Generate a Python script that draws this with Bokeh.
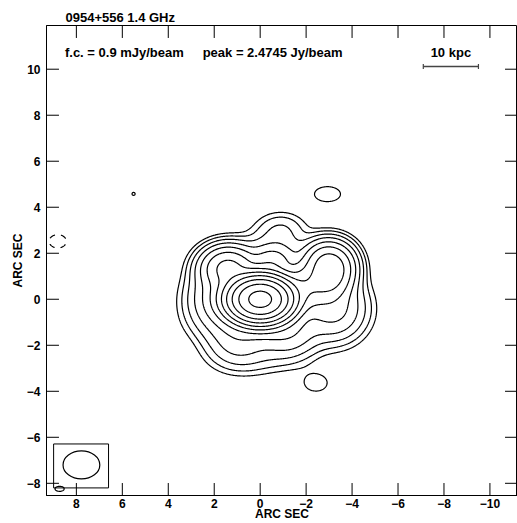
import numpy as np
from bokeh.plotting import figure
from bokeh.models import Range1d, FixedTicker
from bokeh.embed import file_html
from bokeh.resources import INLINE
from bokeh.core.properties import value

# ---------------- data ----------------
title_text = "0954+556  1.4 GHz"
fc_mjy = 0.9                       # first contour, mJy/beam
peak_jy = 2.4745                   # peak, Jy/beam
level_factors = [1, 2, 4, 8, 16, 32, 64, 128, 256, 512, 1024, 2048]
neg_level_factors = [-1]

# model of the map: elliptical gaussian components (mJy/beam, arcsec FWHM, deg)
comp_name = ["core", "east", "ne_ear", "w_ear1", "w_ear2", "w_ear3", "bridge",
             "north1", "north2", "north_faint",
             "south", "south1", "south2", "southwest", "south_shelf",
             "blob_n", "blob_s", "speck", "blob_sw", "neg_e"]
comp_x = [0.0, 1.73, 1.4, -2.8, -3.3, -3.0, -2.0,
          -0.5, -0.7, -0.9,
          0.0, 1.0, -1.2, -3.2, 0.3,
          -2.93, -2.43, 5.51, 8.73, 8.81]
comp_y = [0.0, 0.0, 1.35, 1.6, 1.4, 0.8, 0.55,
          1.6, 2.1, 3.1,
          -1.0, -1.8, -1.5, -0.4, -2.5,
          4.57, -3.64, 4.58, -8.24, 2.52]
comp_peak = [2440.0, 20.0, 70.0, 45.0, 45.0, 40.0, 45.0,
             18.0, 6.0, 3.0,
             12.0, 8.0, 10.0, 18.0, 2.0,
             1.27, 1.27, 1.0, 1.27, -1.27]
comp_maj = [1.55, 1.78, 1.5, 1.2, 1.2, 1.2, 1.4,
            1.2, 2.0, 1.5,
            3.0, 1.8, 1.8, 1.8, 2.5,
            1.6, 1.36, 0.35, 0.57, 1.06]
comp_min = [1.1, 1.78, 1.2, 1.2, 1.3, 1.2, 1.3,
            0.9, 1.3, 1.0,
            1.4, 1.5, 1.5, 1.8, 1.2,
            0.92, 0.99, 0.35, 0.31, 0.82]
comp_pa = [0, 0, 0, 0, 0, 0, 0,
           0, 0, 0,
           0, 0, 0, 0, 0,
           0, 0, 0, 0, 0]

# restoring beam symbol (arcsec)
beam_x, beam_y, beam_w, beam_h = [7.78], [-7.2], [1.6], [1.22]
beam_box_left, beam_box_right = [8.99], [6.6]
beam_box_top, beam_box_bottom = [-6.29], [-8.2]

# 10 kpc scale bar (arcsec)
bar_x0, bar_x1, bar_y = [-7.1], [-9.5], [10.12]
bar_label = "10 kpc"

# annotation texts (arcsec positions of the text centres / baselines)
note_x = [5.91, -0.54, -8.3]
note_y = [10.73, 10.73, 10.73]
note_text = [f"f.c. = {fc_mjy} mJy/beam", f"peak = {peak_jy} Jy/beam", bar_label]

x_ticks = [-10, -8, -6, -4, -2, 0, 2, 4, 6, 8]
y_ticks = [-8, -6, -4, -2, 0, 2, 4, 6, 8, 10]
x_limits = (9.3, -11.2)
y_limits = (-8.53, 11.9)

# ---------------- model image ----------------
gx = np.arange(-7.0, 9.4, 0.03)
gy = np.arange(-8.55, 7.0, 0.03)
X, Y = np.meshgrid(gx, gy)
Z = np.zeros_like(X)
k = 4.0 * np.log(2.0)
for cx, cy, cp, ca, cb, cpa in zip(comp_x, comp_y, comp_peak, comp_maj, comp_min, comp_pa):
    t = np.deg2rad(cpa)
    dx, dy = X - cx, Y - cy
    u = dx * np.cos(t) + dy * np.sin(t)
    v = -dx * np.sin(t) + dy * np.cos(t)
    Z += cp * np.exp(-k * ((u / ca) ** 2 + (v / cb) ** 2))

pos_levels = [fc_mjy * f for f in level_factors]
neg_levels = [fc_mjy * f for f in neg_level_factors]

# ---------------- figure ----------------
FONT = "Liberation Sans"
p = figure(width=517, height=523, output_backend="svg", toolbar_location=None,
           x_range=Range1d(*x_limits), y_range=Range1d(*y_limits),
           min_border_left=46, min_border_right=0, min_border_top=25, min_border_bottom=28,
           x_axis_label="ARC SEC", y_axis_label="ARC SEC")
p.grid.visible = False
p.outline_line_color = "black"
p.outline_line_width = 1
p.background_fill_color = "white"
p.border_fill_color = "white"

p.title.text = title_text
p.title.align = "left"
p.title.offset = 19
p.title.text_font = FONT
p.title.text_font_style = "bold"
p.title.text_font_size = "13px"
p.title.text_color = "black"
p.title.standoff = 2

p.xaxis.ticker = FixedTicker(ticks=x_ticks)
p.yaxis.ticker = FixedTicker(ticks=y_ticks)
for ax in list(p.xaxis) + list(p.yaxis):
    ax.major_tick_in = 0
    ax.major_tick_out = 0
    ax.minor_tick_in = 0
    ax.minor_tick_out = 0
    ax.axis_line_color = "black"
    ax.major_label_text_font = FONT
    ax.major_label_text_font_style = "bold"
    ax.major_label_text_font_size = "12px"
    ax.major_label_text_color = "black"
    ax.axis_label_text_font = FONT
    ax.axis_label_text_font_style = "bold"
    ax.axis_label_text_font_size = "12px"
    ax.axis_label_text_color = "black"
p.xaxis.major_label_standoff = 3
p.xaxis.axis_label_standoff = -4
p.yaxis.major_label_standoff = 6
p.yaxis.axis_label_standoff = -1

# inward tick marks on all four sides (the outer half of each dash is clipped by the frame)
eps_x = 1e-3 * (x_limits[0] - x_limits[1])
eps_y = 1e-3 * (y_limits[1] - y_limits[0])
tick_kw = dict(marker="dash", size=24, line_color="black", line_width=1)
p.scatter(x=x_ticks, y=[y_limits[0] + eps_y] * len(x_ticks), angle=np.pi / 2, **tick_kw)
p.scatter(x=x_ticks, y=[y_limits[1] - eps_y] * len(x_ticks), angle=np.pi / 2, **tick_kw)
p.scatter(x=[x_limits[0] - eps_x] * len(y_ticks), y=y_ticks, **tick_kw)
p.scatter(x=[x_limits[1] + eps_x] * len(y_ticks), y=y_ticks, **tick_kw)

# contours
p.contour(x=gx, y=gy, z=Z, levels=pos_levels, line_color="black", line_width=1.2)
p.contour(x=gx, y=gy, z=Z, levels=neg_levels, line_color="black", line_width=1.2,
          line_dash="dashed")

# beam
p.quad(left=beam_box_left, right=beam_box_right, top=beam_box_top, bottom=beam_box_bottom,
       fill_color=None, line_color="black", line_width=1)
p.ellipse(x=beam_x, y=beam_y, width=beam_w, height=beam_h, fill_color=None,
          line_color="black", line_width=1.2)

# scale bar
p.segment(x0=bar_x0, y0=bar_y, x1=bar_x1, y1=bar_y, line_color="#444444", line_width=1.5)
p.scatter(x=bar_x0 + bar_x1, y=bar_y * 2, marker="dash", angle=np.pi / 2, size=5,
          line_color="#444444", line_width=1.2)

# annotations
p.text(x=note_x, y=note_y, text=note_text, text_align="center",
       text_baseline="alphabetic", text_font=value(FONT), text_font_style="bold",
       text_font_size="13px", text_color="black")

open("out.html", "w").write(file_html(p, INLINE))
